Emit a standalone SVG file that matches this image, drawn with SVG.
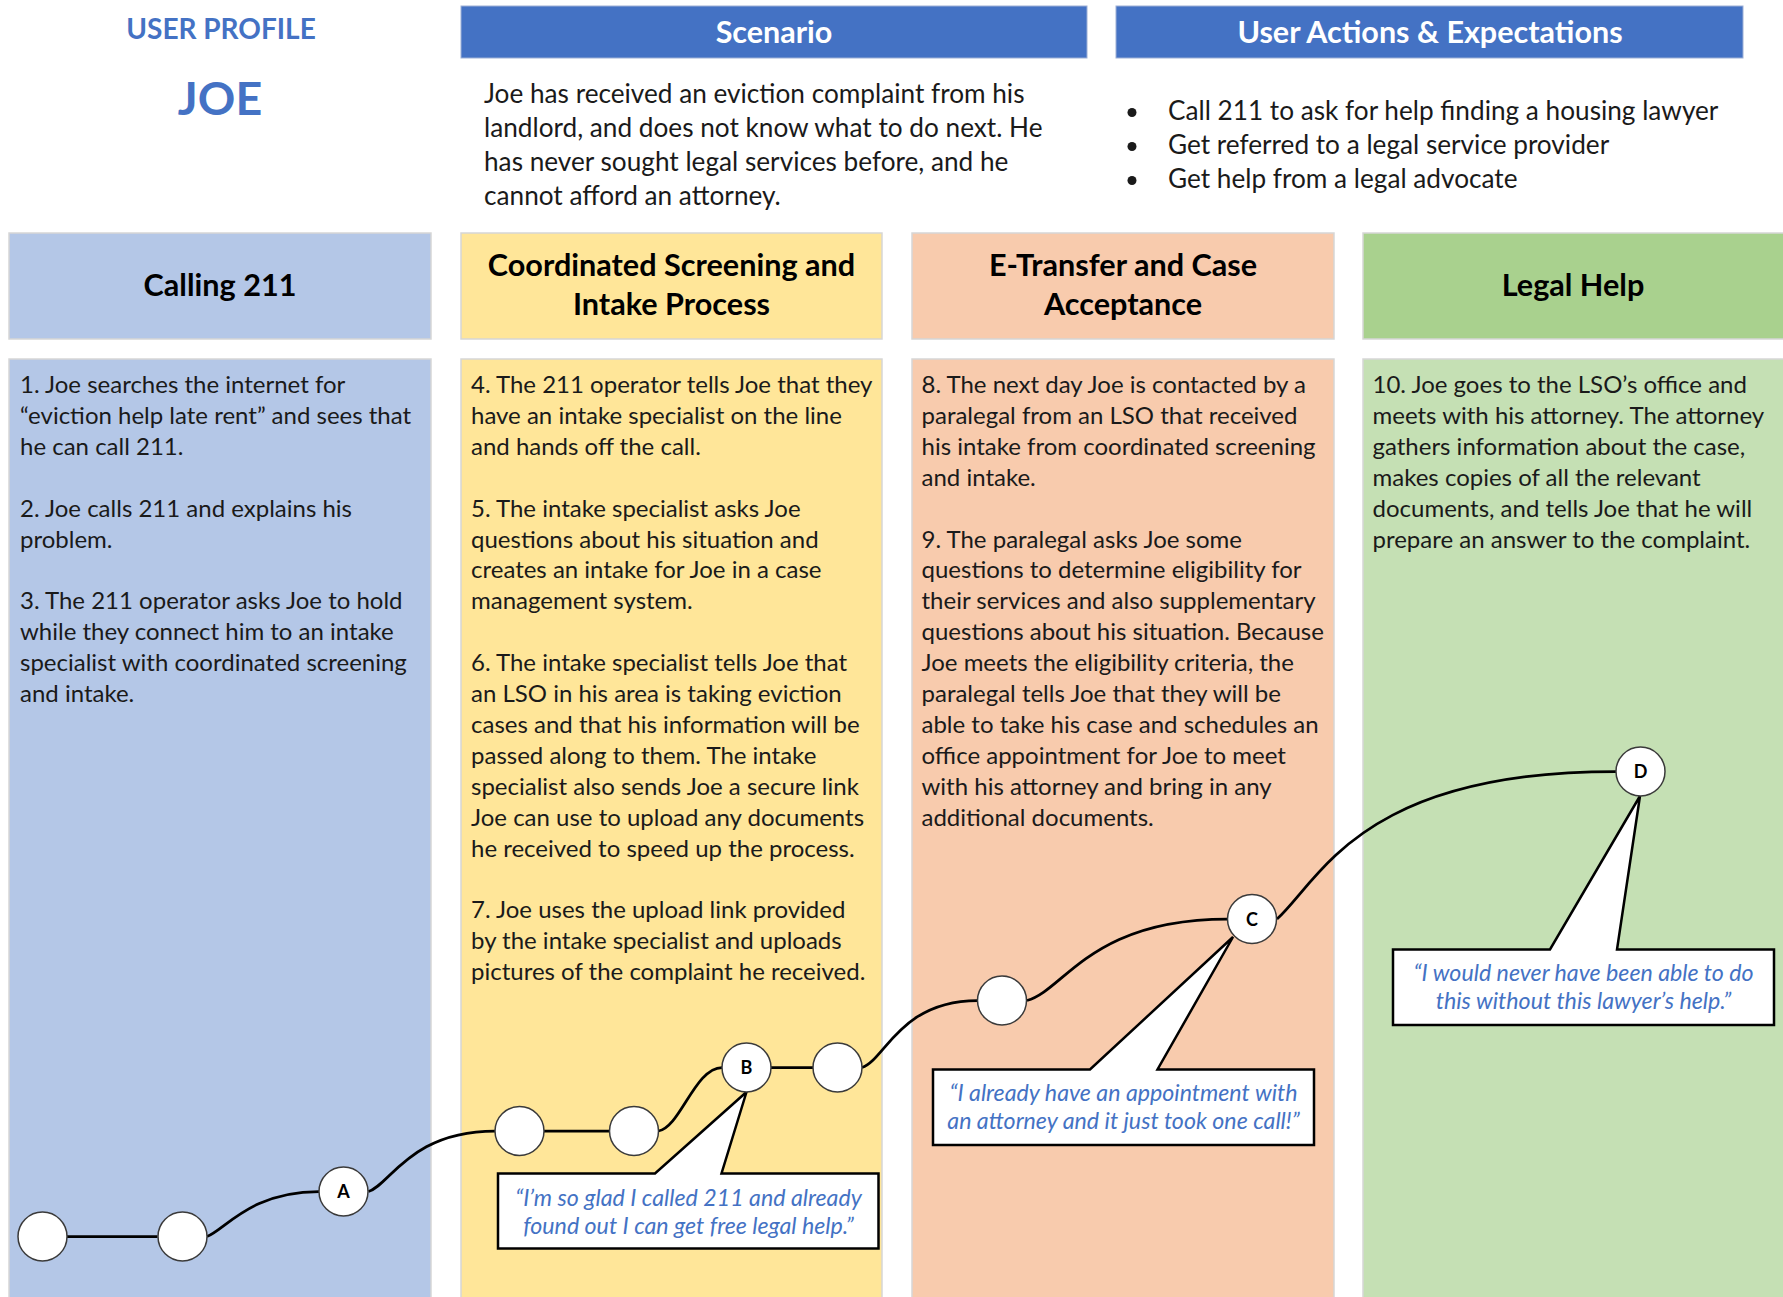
<svg xmlns="http://www.w3.org/2000/svg" width="1783" height="1297" viewBox="0 0 1783 1297">
<style>
  .bar { fill: #4472C4; stroke: #9DB0D6; stroke-width: 1; }
  .bartxt { font-family: Lato, "Liberation Sans", sans-serif; font-weight: bold; font-size: 30.5px; fill: #ffffff; text-anchor: middle; }
  .prof { font-family: Lato, "Liberation Sans", sans-serif; font-weight: bold; fill: #4472C4; text-anchor: middle; }
  .intro { font-family: Lato, "Liberation Sans", sans-serif; font-size: 26.2px; fill: #1a1a1a; }
  .colbox { stroke: #D6D6D6; stroke-width: 1.5; }
  .head { font-family: Lato, "Liberation Sans", sans-serif; font-weight: bold; font-size: 30.6px; fill: #000000; text-anchor: middle; }
  .body { font-family: Lato, "Liberation Sans", sans-serif; font-size: 24px; fill: #1a1a1a; }
  .blue { fill: #B4C7E7; }
  .yellow { fill: #FFE699; }
  .orange { fill: #F8CBAD; }
  .greenh { fill: #A9D18E; }
  .greenb { fill: #C5E0B4; }
  .conn { fill: none; stroke: #000000; stroke-width: 2.75; }
  .node { fill: #ffffff; stroke: #3a3a3a; stroke-width: 1.5; }
  .nlabel { font-family: Lato, "Liberation Sans", sans-serif; font-weight: bold; font-size: 18px; fill: #000000; text-anchor: middle; }
  .callout { fill: #ffffff; stroke: #000000; stroke-width: 2.5; stroke-linejoin: miter; }
  .quote { font-family: Lato, "Liberation Sans", sans-serif; font-style: italic; font-size: 23.2px; fill: #4472C4; text-anchor: middle; }
</style>

<rect x="0" y="0" width="1783" height="1297" fill="#ffffff"/>

<!-- Header: user profile -->
<g id="user-profile">
  <text class="prof" x="221" y="39" font-size="28">USER PROFILE</text>
  <text class="prof" x="220" y="115" font-size="46.5">JOE</text>
</g>

<!-- Header: scenario -->
<g id="scenario">
  <rect class="bar" x="461" y="6" width="626" height="52"/>
  <text class="bartxt" x="774" y="43">Scenario</text>
  <text class="intro">
    <tspan x="484" y="103">Joe has received an eviction complaint from his</tspan>
    <tspan x="484" y="137">landlord, and does not know what to do next. He</tspan>
    <tspan x="484" y="171">has never sought legal services before, and he</tspan>
    <tspan x="484" y="204.5">cannot afford an attorney.</tspan>
  </text>
</g>

<!-- Header: user actions -->
<g id="user-actions">
  <rect class="bar" x="1116" y="6" width="627" height="52"/>
  <text class="bartxt" x="1430" y="43">User Actions &amp; Expectations</text>
  <circle cx="1132" cy="112.5" r="4.5" fill="#1a1a1a"/>
  <circle cx="1132" cy="146.5" r="4.5" fill="#1a1a1a"/>
  <circle cx="1132" cy="180.5" r="4.5" fill="#1a1a1a"/>
  <text class="intro">
    <tspan x="1168" y="120">Call 211 to ask for help finding a housing lawyer</tspan>
    <tspan x="1168" y="154">Get referred to a legal service provider</tspan>
    <tspan x="1168" y="188">Get help from a legal advocate</tspan>
  </text>
</g>

<!-- Column 1 -->
<g id="col-calling-211">
  <rect class="colbox blue" x="9" y="233" width="422" height="106"/>
  <text class="head" x="220" y="296">Calling 211</text>
  <rect class="colbox blue" x="9" y="359" width="422" height="945"/>
  <text class="body">
    <tspan x="20" y="393">1. Joe searches the internet for</tspan>
    <tspan x="20" y="423.9">“eviction help late rent” and sees that</tspan>
    <tspan x="20" y="454.8">he can call 211.</tspan>
    <tspan x="20" y="516.6">2. Joe calls 211 and explains his</tspan>
    <tspan x="20" y="547.5">problem.</tspan>
    <tspan x="20" y="609.3">3. The 211 operator asks Joe to hold</tspan>
    <tspan x="20" y="640.2">while they connect him to an intake</tspan>
    <tspan x="20" y="671.1">specialist with coordinated screening</tspan>
    <tspan x="20" y="702">and intake.</tspan>
  </text>
</g>

<!-- Column 2 -->
<g id="col-screening-intake">
  <rect class="colbox yellow" x="461" y="233" width="421" height="106"/>
  <text class="head" x="671.5" y="276">Coordinated Screening and</text>
  <text class="head" x="671.5" y="315">Intake Process</text>
  <rect class="colbox yellow" x="461" y="359" width="421" height="945"/>
  <text class="body">
    <tspan x="471" y="393">4. The 211 operator tells Joe that they</tspan>
    <tspan x="471" y="423.9">have an intake specialist on the line</tspan>
    <tspan x="471" y="454.8">and hands off the call.</tspan>
    <tspan x="471" y="516.6">5. The intake specialist asks Joe</tspan>
    <tspan x="471" y="547.5">questions about his situation and</tspan>
    <tspan x="471" y="578.4">creates an intake for Joe in a case</tspan>
    <tspan x="471" y="609.3">management system.</tspan>
    <tspan x="471" y="671.1">6. The intake specialist tells Joe that</tspan>
    <tspan x="471" y="702">an LSO in his area is taking eviction</tspan>
    <tspan x="471" y="732.9">cases and that his information will be</tspan>
    <tspan x="471" y="763.8">passed along to them. The intake</tspan>
    <tspan x="471" y="794.7">specialist also sends Joe a secure link</tspan>
    <tspan x="471" y="825.6">Joe can use to upload any documents</tspan>
    <tspan x="471" y="856.5">he received to speed up the process.</tspan>
    <tspan x="471" y="918.3">7. Joe uses the upload link provided</tspan>
    <tspan x="471" y="949.2">by the intake specialist and uploads</tspan>
    <tspan x="471" y="980.1">pictures of the complaint he received.</tspan>
  </text>
</g>

<!-- Column 3 -->
<g id="col-etransfer">
  <rect class="colbox orange" x="912" y="233" width="422" height="106"/>
  <text class="head" x="1123" y="276">E-Transfer and Case</text>
  <text class="head" x="1123" y="315">Acceptance</text>
  <rect class="colbox orange" x="912" y="359" width="422" height="945"/>
  <text class="body">
    <tspan x="921.5" y="393">8. The next day Joe is contacted by a</tspan>
    <tspan x="921.5" y="423.9">paralegal from an LSO that received</tspan>
    <tspan x="921.5" y="454.8">his intake from coordinated screening</tspan>
    <tspan x="921.5" y="485.7">and intake.</tspan>
    <tspan x="921.5" y="547.5">9. The paralegal asks Joe some</tspan>
    <tspan x="921.5" y="578.4">questions to determine eligibility for</tspan>
    <tspan x="921.5" y="609.3">their services and also supplementary</tspan>
    <tspan x="921.5" y="640.2">questions about his situation. Because</tspan>
    <tspan x="921.5" y="671.1">Joe meets the eligibility criteria, the</tspan>
    <tspan x="921.5" y="702">paralegal tells Joe that they will be</tspan>
    <tspan x="921.5" y="732.9">able to take his case and schedules an</tspan>
    <tspan x="921.5" y="763.8">office appointment for Joe to meet</tspan>
    <tspan x="921.5" y="794.7">with his attorney and bring in any</tspan>
    <tspan x="921.5" y="825.6">additional documents.</tspan>
  </text>
</g>

<!-- Column 4 -->
<g id="col-legal-help">
  <rect class="colbox greenh" x="1363" y="233" width="425" height="106"/>
  <text class="head" x="1573" y="296">Legal Help</text>
  <rect class="colbox greenb" x="1363" y="359" width="425" height="945"/>
  <text class="body">
    <tspan x="1372.5" y="393">10. Joe goes to the LSO’s office and</tspan>
    <tspan x="1372.5" y="423.9">meets with his attorney. The attorney</tspan>
    <tspan x="1372.5" y="454.8">gathers information about the case,</tspan>
    <tspan x="1372.5" y="485.7">makes copies of all the relevant</tspan>
    <tspan x="1372.5" y="516.6">documents, and tells Joe that he will</tspan>
    <tspan x="1372.5" y="547.5">prepare an answer to the complaint.</tspan>
  </text>
</g>

<!-- Callouts -->
<g id="callout-b">
  <path class="callout" d="M498,1173.5 H655 L746.5,1092 L721.5,1173.5 H878.5 V1248.5 H498 Z"/>
  <text class="quote" x="688.5" y="1205.5">“I’m so glad I called 211 and already</text>
  <text class="quote" x="688.5" y="1233.5">found out I can get free legal help.”</text>
</g>
<g id="callout-c">
  <path class="callout" d="M933,1069.5 H1090 L1233,937 L1157.5,1069.5 H1314 V1145 H933 Z"/>
  <text class="quote" x="1123.5" y="1100.5">“I already have an appointment with</text>
  <text class="quote" x="1123.5" y="1128.5">an attorney and it just took one call!”</text>
</g>
<g id="callout-d">
  <path class="callout" d="M1393,949.5 H1550 L1640,796 L1617,949.5 H1774 V1025 H1393 Z"/>
  <text class="quote" x="1583.5" y="980.5">“I would never have been able to do</text>
  <text class="quote" x="1583.5" y="1009">this without this lawyer’s help.”</text>
</g>

<!-- Connectors -->
<g id="connectors">
  <path class="conn" d="M67,1236.5 H157.5"/>
  <path class="conn" d="M207,1236.5 C225,1230 250,1191.5 319,1191.5"/>
  <path class="conn" d="M368.5,1191.5 C390,1185 410,1131 495,1131"/>
  <path class="conn" d="M544,1131 H609.5"/>
  <path class="conn" d="M658.5,1131 C680,1128 695,1067.5 722,1067.5"/>
  <path class="conn" d="M771,1067.5 H813"/>
  <path class="conn" d="M862,1067.5 C885,1060 900,1000.5 977.5,1000.5"/>
  <path class="conn" d="M1027,1000.5 C1065,990 1090,919 1227.5,919"/>
  <path class="conn" d="M1277,919 C1320,880 1360,771.5 1616,771.5"/>
</g>

<!-- Journey nodes -->
<g id="node-1"><circle class="node" cx="42.5" cy="1236.5" r="24.5"/></g>
<g id="node-2"><circle class="node" cx="182.5" cy="1236.5" r="24.5"/></g>
<g id="node-a"><circle class="node" cx="343.5" cy="1191.5" r="24.5"/><text class="nlabel" x="343.5" y="1198">A</text></g>
<g id="node-4"><circle class="node" cx="519.5" cy="1131" r="24.5"/></g>
<g id="node-5"><circle class="node" cx="634" cy="1131" r="24.5"/></g>
<g id="node-b"><circle class="node" cx="746.5" cy="1067.5" r="24.5"/><text class="nlabel" x="746.5" y="1074">B</text></g>
<g id="node-7"><circle class="node" cx="837.5" cy="1067.5" r="24.5"/></g>
<g id="node-8"><circle class="node" cx="1002" cy="1000.5" r="24.5"/></g>
<g id="node-c"><circle class="node" cx="1252" cy="919" r="24.5"/><text class="nlabel" x="1252" y="925.5">C</text></g>
<g id="node-d"><circle class="node" cx="1640.5" cy="771.5" r="24.5"/><text class="nlabel" x="1640.5" y="778">D</text></g>
</svg>
